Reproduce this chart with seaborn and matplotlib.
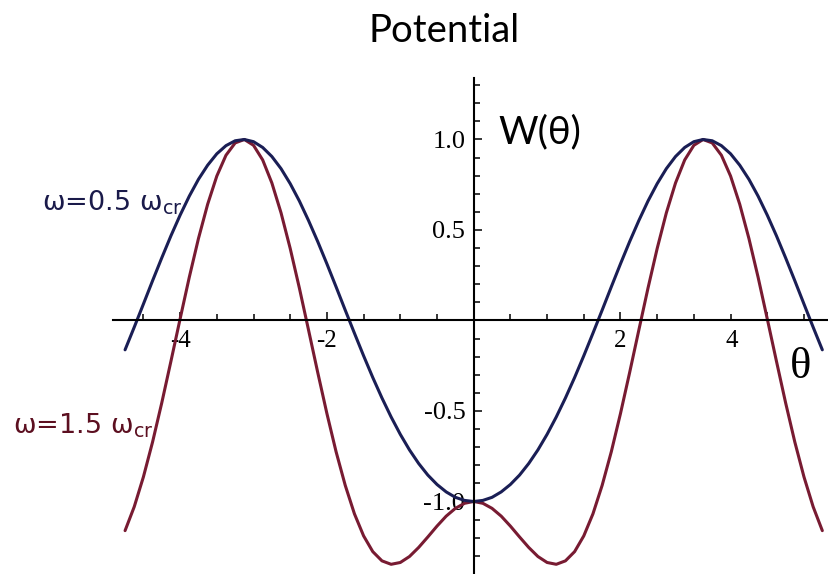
import matplotlib
matplotlib.use('Agg')
import matplotlib.pyplot as plt
import matplotlib.transforms as mtransforms
import numpy as np
import pandas as pd
import seaborn as sns

# sample grid for theta and the two potential curves
theta = np.linspace(-4.75, 4.75, 77)
w_low = [-0.162, -0.037, 0.091, 0.220, 0.346, 0.468, 0.582, 0.687, 0.780, 0.858,
         0.921, 0.966, 0.993, 1.000, 0.988, 0.956, 0.906, 0.839, 0.756, 0.660,
         0.552, 0.436, 0.313, 0.186, 0.057, -0.070, -0.195, -0.315, -0.428, -0.533,
         -0.629, -0.715, -0.790, -0.854, -0.906, -0.947, -0.977, -0.994,
         -1.000,
         -0.994, -0.977, -0.947, -0.906, -0.854, -0.790, -0.715, -0.629, -0.533,
         -0.428, -0.315, -0.195, -0.070, 0.057, 0.186, 0.313, 0.436, 0.552, 0.660,
         0.756, 0.839, 0.906, 0.956, 0.988, 1.000, 0.993, 0.966, 0.921, 0.858,
         0.780, 0.687, 0.582, 0.468, 0.346, 0.220, 0.091, -0.037, -0.162]
w_high = [-1.161, -1.029, -0.864, -0.671, -0.455, -0.225, 0.009, 0.239, 0.453, 0.642,
          0.798, 0.913, 0.981, 1.000, 0.968, 0.887, 0.760, 0.595, 0.398, 0.179,
          -0.053, -0.287, -0.514, -0.725, -0.911, -1.068, -1.190, -1.277, -1.328, -1.347,
          -1.337, -1.304, -1.254, -1.196, -1.136, -1.081, -1.038, -1.010,
          -1.000,
          -1.010, -1.038, -1.081, -1.136, -1.196, -1.254, -1.304, -1.337, -1.347,
          -1.328, -1.277, -1.190, -1.068, -0.911, -0.725, -0.514, -0.287, -0.053, 0.179,
          0.398, 0.595, 0.760, 0.887, 0.968, 1.000, 0.981, 0.913, 0.798, 0.642,
          0.453, 0.239, 0.009, -0.225, -0.455, -0.671, -0.864, -1.029, -1.161]
omega_names = ['0.5', '1.5']

x_ticks = [-4, -2, 2, 4]
x_tick_labels = ['-4', '-2', '2', '4']
y_ticks = [-1.0, -0.5, 0.5, 1.0]
y_tick_labels = ['-1.0', '-0.5', '0.5', '1.0']

BLUE = '#1a1e55'
RED = '#781b32'

df = pd.DataFrame({
    'theta': np.concatenate([theta, theta]),
    'W': w_low + w_high,
    'omega': [omega_names[0]] * len(theta) + [omega_names[1]] * len(theta),
})

sns.set_style('white')
plt.rcParams['font.family'] = ['DejaVu Sans']
plt.rcParams['text.color'] = 'black'
plt.rcParams['xtick.color'] = 'black'
plt.rcParams['ytick.color'] = 'black'

fig = plt.figure(figsize=(8.29, 5.74), dpi=100)
ax = fig.add_axes([0, 0, 1, 1])

sns.lineplot(data=df, x='theta', y='W', hue='omega', hue_order=['1.5', '0.5'],
             palette={'0.5': BLUE, '1.5': RED}, linewidth=2.2, legend=False,
             sort=False, ax=ax)
for line in ax.lines:
    line.set_solid_joinstyle('round')

ax.set_xlim(-6.454, 4.841)
ax.set_ylim(-1.4006, 1.7707)
ax.set_xlabel('')
ax.set_ylabel('')

# axes crossing at the origin, Mathematica style
for side in ['top', 'right']:
    ax.spines[side].set_visible(False)
ax.spines['left'].set_position(('data', 0))
ax.spines['bottom'].set_position(('data', 0))
ax.spines['left'].set_bounds(-1.4006, 1.34)
ax.spines['bottom'].set_bounds(-4.92, 4.841)
for side in ['left', 'bottom']:
    ax.spines[side].set_color('black')
    ax.spines[side].set_linewidth(1.5)

ax.set_xticks(x_ticks, labels=x_tick_labels)
ax.set_yticks(y_ticks, labels=y_tick_labels)
ax.set_xticks(np.arange(-4.5, 4.6, 0.5), minor=True)
ax.set_yticks(np.arange(-1.3, 1.35, 0.1), minor=True)
ax.tick_params(which='both', direction='in', bottom=True, left=True,
               color='black', labelcolor='black', width=1.1)
ax.tick_params(which='major', length=6)
ax.tick_params(which='minor', length=4)
ax.tick_params(axis='x', pad=7)
ax.tick_params(axis='y', pad=6)
for lab in ax.get_xticklabels():
    lab.set_fontfamily('Liberation Serif')
    lab.set_fontsize(18)
for lab in ax.get_yticklabels():
    lab.set_fontfamily('Liberation Serif')
    lab.set_fontsize(19)

# the "4" label sits left of its tick in the original
lab4 = ax.xaxis.get_major_ticks()[-1].label1
lab4.set_transform(lab4.get_transform()
                   + mtransforms.ScaledTranslation(-0.36, 0, fig.dpi_scale_trans))

fig.text(0.536, 1 - 42 / 574, 'Potential', ha='center', va='baseline',
         fontsize=27.5, color='black', family=['Lato', 'DejaVu Sans'])
ax.text(0.331, 0.981, 'W(θ)', ha='left', va='baseline', fontsize=27.5,
        color='black', family=['Lato', 'DejaVu Sans'])
ax.text(4.46, -0.318, 'θ', ha='center', va='baseline', fontsize=32,
        color='black', family='Liberation Serif')
ax.text(-5.88, 0.610, 'ω=0.5 ω$_\\mathregular{cr}$', ha='left', va='baseline',
        fontsize=19.5, color='#1a1a4a')
ax.text(-6.28, -0.622, 'ω=1.5 ω$_\\mathregular{cr}$', ha='left', va='baseline',
        fontsize=19.5, color='#5c0f20')

fig.savefig('out.png', dpi=100)
